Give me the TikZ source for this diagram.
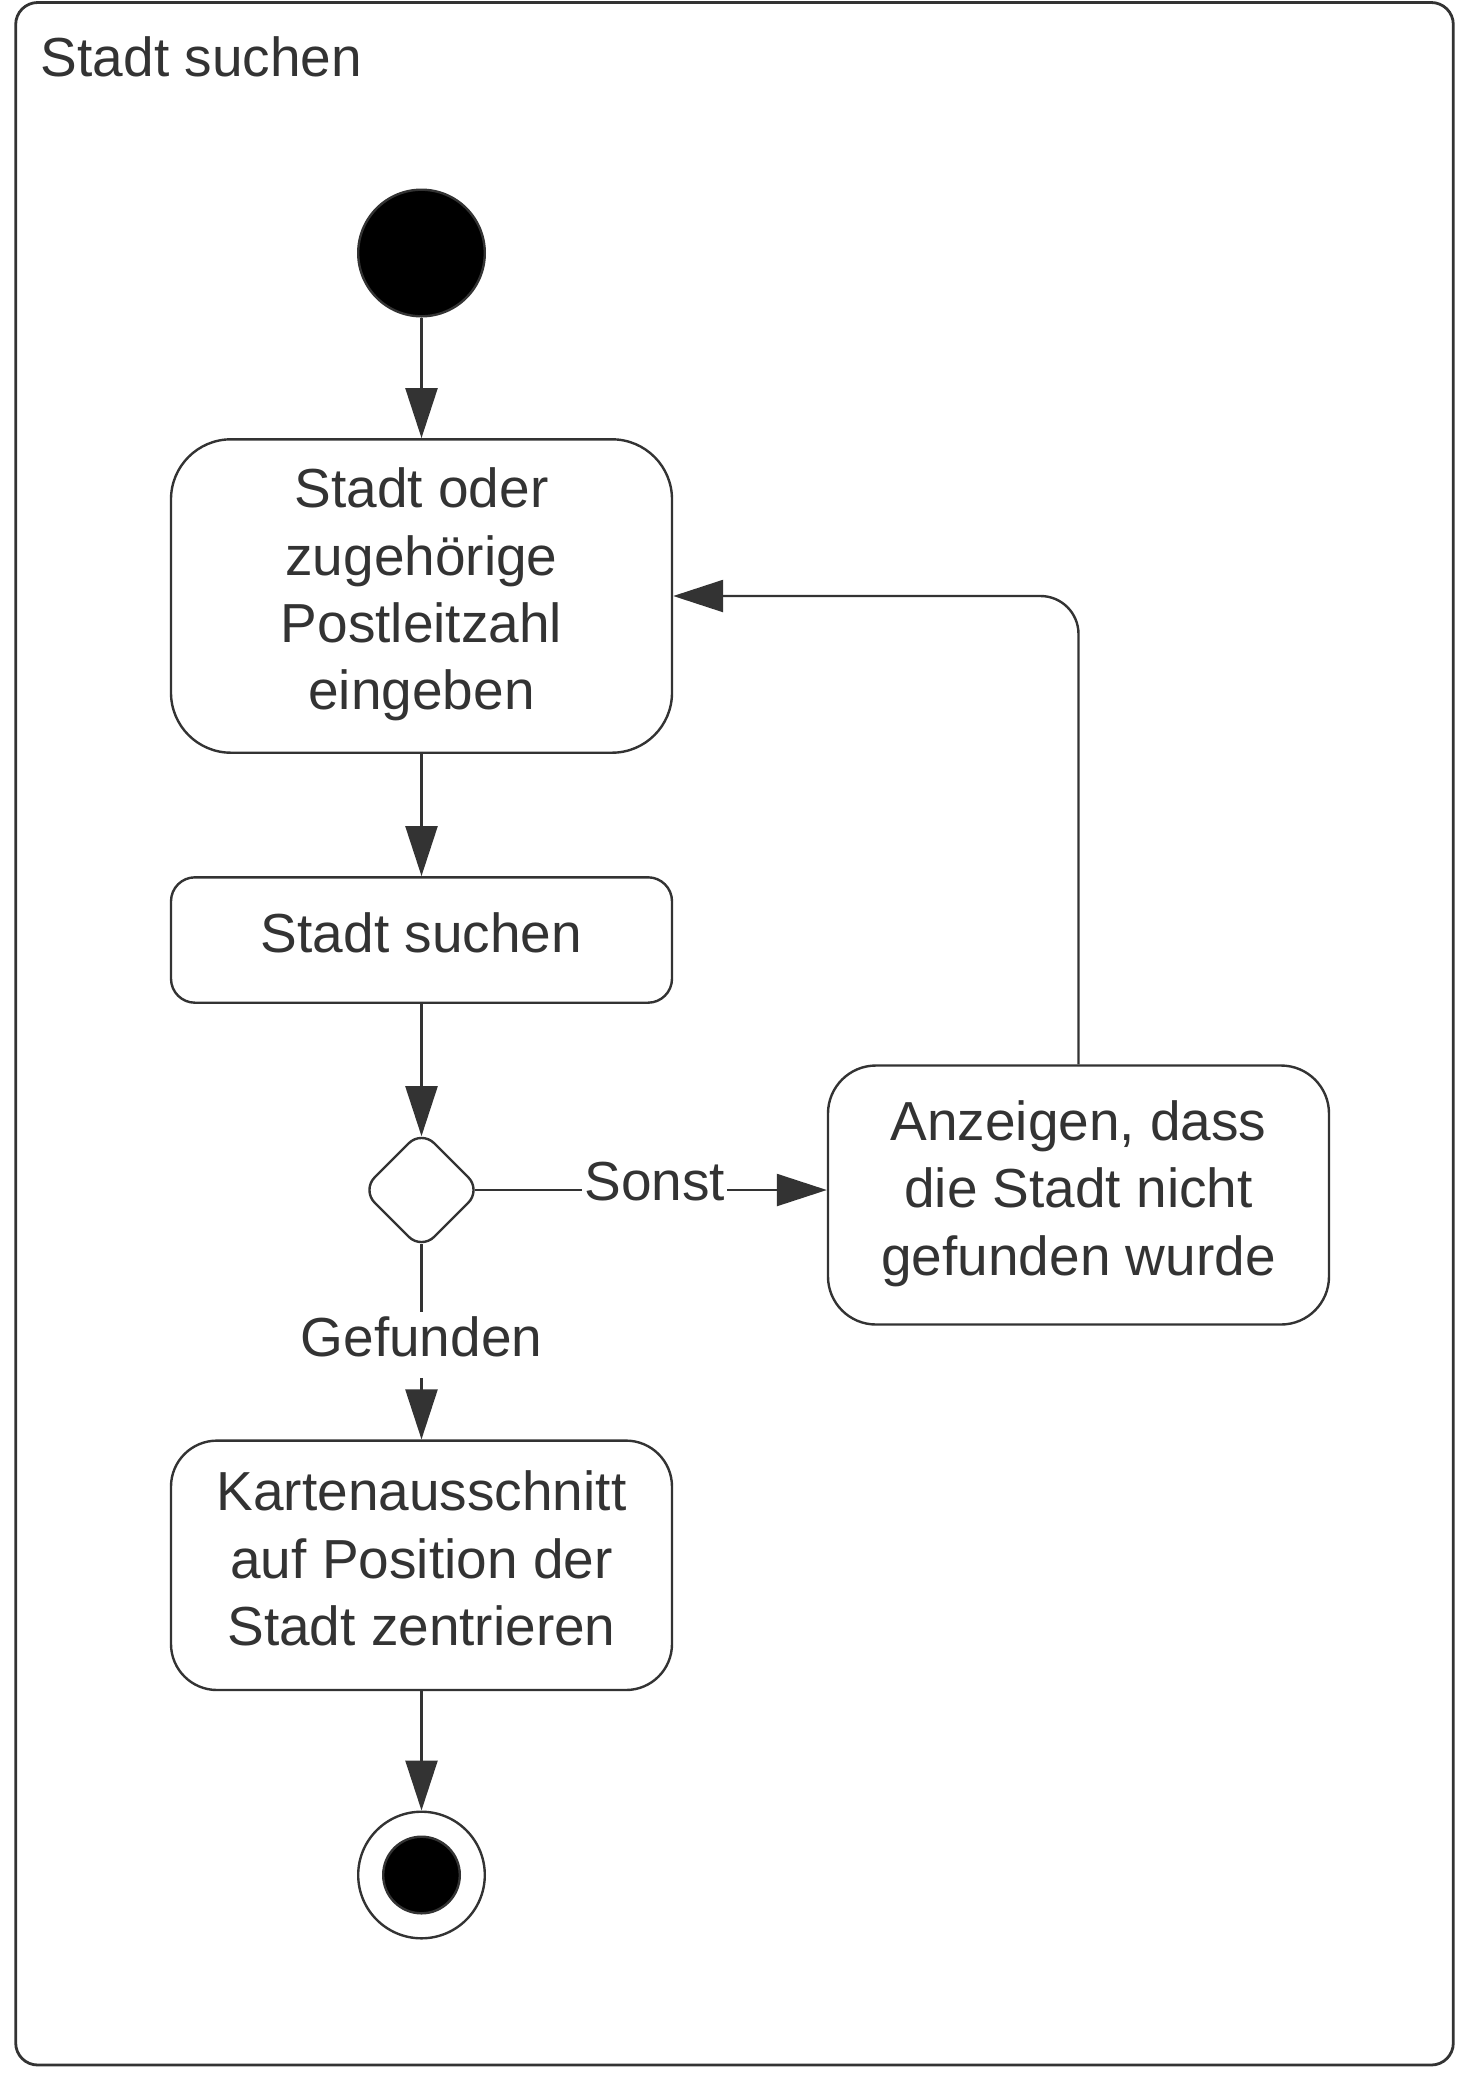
\documentclass[tikz,border=0pt]{standalone}
\usepackage{fontspec}
\setmainfont{Liberation Sans}
\usetikzlibrary{arrows.meta}
\usetikzlibrary{shapes.geometric}
\definecolor{ink}{HTML}{333333}

\begin{document}
\begin{tikzpicture}[x=0.5pt,y=-0.5pt,
  every node/.style={text=ink,font=\fontsize{27.5}{33.65}\selectfont},
  act/.style={draw=ink,line width=1.2pt,fill=white,align=center,minimum width=250.5pt,inner sep=0pt,
    execute at end node={\rule[-7pt]{0pt}{7pt}}},
  flow/.style={draw=ink,line width=1.2pt,-{Triangle[length=25pt,width=16pt]}},
  guard/.style={fill=white,inner xsep=1pt,inner ysep=2pt,text depth=9pt}]
\useasboundingbox (0,0) rectangle (1472,2085);
\draw[ink,line width=1.4pt,rounded corners=11pt] (15.7,2.5) rectangle (1453.3,2065);
\node[anchor=base west,inner sep=0] (title) at (40.5,76) {Stadt suchen};
\node[circle,fill=black,draw=ink,line width=1.2pt,minimum size=63.3pt,inner sep=0] (start) at (421.5,253) {};
\node[act,minimum height=156.7pt,rounded corners=30pt] (enter) at (421.5,596) {Stadt oder\\zugehörige\\Postleitzahl\\eingeben};
\node[act,minimum height=62.7pt,rounded corners=12pt] (search) at (421.5,940) {Stadt suchen};
\node[diamond,aspect=1,draw=ink,line width=1.2pt,fill=white,rounded corners=9pt,minimum width=60pt,minimum height=60pt,inner sep=0] (choice) at (421.5,1190) {};
\node[act,minimum height=129.5pt,rounded corners=24pt] (notfound) at (1078.5,1195) {Anzeigen, dass\\die Stadt nicht\\gefunden wurde};
\node[act,minimum height=124.7pt,rounded corners=23pt] (center) at (421.5,1565.3) {Kartenausschnitt\\auf Position der\\Stadt zentrieren};
\node[circle,draw=ink,line width=1.2pt,fill=white,minimum size=63.3pt,inner sep=0] (end) at (421.5,1875) {};
\node[circle,fill=black,draw=ink,line width=1.2pt,minimum size=38.3pt,inner sep=0] (endcore) at (end) {};
% Kanten
\draw[flow] (start) -- (enter);
\draw[flow] (enter) -- (search);
\draw[flow,shorten >=-3.7pt] (search) -- (choice);
\draw[flow,shorten <=-3.7pt] (choice) -- node[guard]{Sonst} (choice -| notfound.west);
\draw[flow,shorten <=-3.7pt] (choice) -- node[guard]{Gefunden} (center);
\draw[flow,rounded corners=19pt] (notfound) |- (enter);
\draw[flow] (center) -- (end);
\end{tikzpicture}
\end{document}
